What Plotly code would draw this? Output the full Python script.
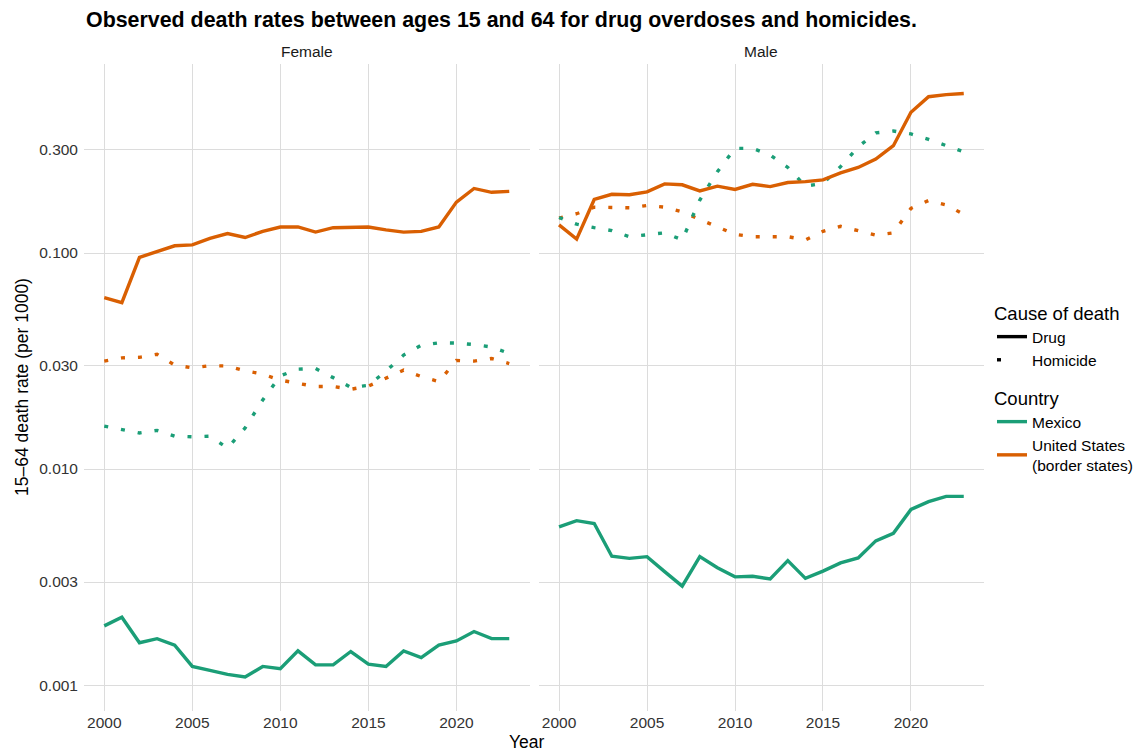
import plotly.graph_objects as go

years = list(range(2000, 2024))

# Female
fem_us_drug = [0.0621, 0.0589, 0.0955, 0.102, 0.108, 0.109, 0.117, 0.123, 0.118, 0.126, 0.132, 0.132,
               0.125, 0.131, 0.132, 0.132, 0.128, 0.125, 0.126, 0.132, 0.172, 0.199, 0.191, 0.193]
fem_us_hom = [0.0316, 0.0327, 0.0329, 0.0340, 0.0303, 0.0294, 0.0301, 0.0300, 0.0285, 0.0275, 0.0258, 0.0249,
              0.0241, 0.0241, 0.0234, 0.0242, 0.0263, 0.0287, 0.0268, 0.0254, 0.0318, 0.0316, 0.0325, 0.0308]
fem_mx_hom = [0.0158, 0.0153, 0.0147, 0.0151, 0.0142, 0.0141, 0.0142, 0.0125, 0.0155, 0.0209, 0.0270, 0.0290,
              0.0292, 0.0265, 0.0239, 0.0244, 0.0284, 0.0337, 0.0374, 0.0384, 0.0383, 0.0377, 0.0367, 0.0343]
fem_mx_drug = [0.00188, 0.00206, 0.00157, 0.00164, 0.00153, 0.00122, 0.00117, 0.00112, 0.00109, 0.00122, 0.00119, 0.00144,
               0.00124, 0.00124, 0.00143, 0.00125, 0.00122, 0.00144, 0.00134, 0.00153, 0.00160, 0.00177, 0.00164, 0.00164]

# Male
male_us_drug = [0.135, 0.116, 0.177, 0.187, 0.186, 0.192, 0.209, 0.207, 0.194, 0.204, 0.197, 0.208,
                0.203, 0.212, 0.214, 0.218, 0.235, 0.249, 0.272, 0.314, 0.448, 0.529, 0.541, 0.548]
male_mx_hom = [0.146, 0.136, 0.131, 0.127, 0.119, 0.122, 0.124, 0.115, 0.176, 0.238, 0.305, 0.305,
               0.284, 0.249, 0.204, 0.210, 0.251, 0.310, 0.360, 0.367, 0.356, 0.336, 0.315, 0.294]
male_us_hom = [0.145, 0.152, 0.163, 0.163, 0.162, 0.166, 0.163, 0.155, 0.143, 0.132, 0.122, 0.119,
               0.119, 0.119, 0.115, 0.126, 0.133, 0.127, 0.121, 0.124, 0.161, 0.175, 0.167, 0.151]
male_mx_drug = [0.00540, 0.00577, 0.00560, 0.00395, 0.00386, 0.00393, 0.00335, 0.00287, 0.00393, 0.00349, 0.00317, 0.00319,
                0.00310, 0.00377, 0.00312, 0.00337, 0.00368, 0.00388, 0.00465, 0.00504, 0.00650, 0.00706, 0.00747, 0.00747]

y_ticks = [0.001, 0.003, 0.01, 0.03, 0.1, 0.3]
y_tick_text = ["0.001", "0.003", "0.010", "0.030", "0.100", "0.300"]
x_ticks = [2000, 2005, 2010, 2015, 2020]

GREEN = "#1b9e77"
ORANGE = "#d95f02"
LW = 3.4
DOT = "4px,13px"
FONT = "Liberation Sans, Arial, sans-serif"
TICK_FS = 15.5

fig = go.Figure()

def add(y, color, dash, xa, ya):
    fig.add_trace(go.Scatter(x=years, y=y, mode="lines", xaxis=xa, yaxis=ya,
                             line=dict(color=color, width=LW, dash=dash),
                             showlegend=False, hoverinfo="skip"))

# Female panel
add(fem_us_hom, ORANGE, DOT, "x", "y")
add(fem_mx_hom, GREEN, DOT, "x", "y")
add(fem_us_drug, ORANGE, "solid", "x", "y")
add(fem_mx_drug, GREEN, "solid", "x", "y")
# Male panel
add(male_us_hom, ORANGE, DOT, "x2", "y2")
add(male_mx_hom, GREEN, DOT, "x2", "y2")
add(male_us_drug, ORANGE, "solid", "x2", "y2")
add(male_mx_drug, GREEN, "solid", "x2", "y2")

# Legend entries
fig.add_trace(go.Scatter(x=[None], y=[None], mode="lines", name="Drug",
                         line=dict(color="black", width=LW), legend="legend"))
fig.add_trace(go.Scatter(x=[None], y=[None], mode="lines", name="Homicide",
                         line=dict(color="black", width=LW, dash="4px,30px"), legend="legend"))
fig.add_trace(go.Scatter(x=[None], y=[None], mode="lines", name="Mexico",
                         line=dict(color=GREEN, width=LW), legend="legend2"))
fig.add_trace(go.Scatter(x=[None], y=[None], mode="lines", name="United States<br>(border states)",
                         line=dict(color=ORANGE, width=LW), legend="legend2"))

L, R, T, B = 84, 159, 64, 44
W, H = 1143, 755
pw, ph = W - L - R, H - T - B

def px_x(p):
    return (p - L) / pw

def px_y(p):
    return (H - B - p) / ph

xr = [1998.85, 2024.15]
yr = [-3.12, -0.125]
grid = "#dcdcdc"

axis_common = dict(range=xr, tickvals=x_ticks, showgrid=True, gridcolor=grid, gridwidth=1.1,
                   zeroline=False, showline=False, ticks="",
                   tickfont=dict(size=TICK_FS, color="#333333", family=FONT))
fig.update_layout(
    xaxis=dict(domain=[0, px_x(529.5)], anchor="y", **axis_common),
    xaxis2=dict(domain=[px_x(538.8), 1], anchor="y2", **axis_common),
    yaxis=dict(type="log", range=yr, tickvals=y_ticks, ticktext=y_tick_text, anchor="x",
               showgrid=True, gridcolor=grid, gridwidth=1.1, zeroline=False, showline=False, ticks="",
               ticklabelstandoff=5,
               tickfont=dict(size=TICK_FS, color="#333333", family=FONT)),
    yaxis2=dict(type="log", range=yr, tickvals=y_ticks, anchor="x2", matches="y",
                showticklabels=False, showgrid=True, gridcolor=grid, gridwidth=1.1,
                zeroline=False, showline=False, ticks=""),
)

fig.update_layout(
    width=W, height=H,
    margin=dict(l=L, r=R, t=T, b=B, autoexpand=False),
    paper_bgcolor="white", plot_bgcolor="white",
    font=dict(family=FONT, color="#1a1a1a"),
    title=dict(text="<b>Observed death rates between ages 15 and 64 for drug overdoses and homicides.</b>",
               x=86 / W, xanchor="left", xref="container",
               y=1 - 20 / H, yanchor="middle", yref="container",
               font=dict(size=21.4, color="black", family=FONT)),
    legend=dict(title=dict(text="Cause of death", font=dict(size=18.5, color="black")),
                x=px_x(992), xanchor="left", y=px_y(296), yanchor="top",
                font=dict(size=15.5, color="black"), itemwidth=30, bgcolor="rgba(0,0,0,0)",
                tracegroupgap=0),
    legend2=dict(title=dict(text="Country", font=dict(size=18.5, color="black")),
                 x=px_x(992), xanchor="left", y=px_y(381), yanchor="top",
                 font=dict(size=15.5, color="black"), itemwidth=30, bgcolor="rgba(0,0,0,0)",
                 tracegroupgap=0),
    annotations=[
        dict(text="Female", x=(0 + px_x(529.5)) / 2, y=px_y(52), xref="paper", yref="paper",
             showarrow=False, xanchor="center", yanchor="middle", font=dict(size=15.5, color="#1a1a1a")),
        dict(text="Male", x=(px_x(538.8) + 1) / 2, y=px_y(52), xref="paper", yref="paper",
             showarrow=False, xanchor="center", yanchor="middle", font=dict(size=15.5, color="#1a1a1a")),
        dict(text="Year", x=px_x(527), y=px_y(742), xref="paper", yref="paper",
             showarrow=False, xanchor="center", yanchor="middle", font=dict(size=17.5, color="black")),
        dict(text="15\u201364 death rate (per 1000)", x=px_x(22), y=px_y(387), xref="paper", yref="paper",
             showarrow=False, xanchor="center", yanchor="middle", textangle=-90,
             font=dict(size=17.5, color="black")),
    ],
)

fig.write_html("out.html")
